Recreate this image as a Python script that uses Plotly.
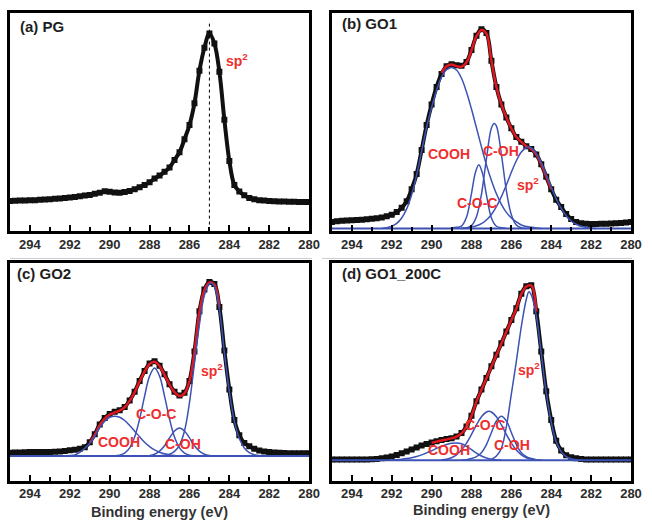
import plotly.graph_objects as go

# ---------------- data ----------------
ENERGY = [295.0, 294.75, 294.5, 294.25, 294.0, 293.75, 293.5, 293.25,
          293.0, 292.75, 292.5, 292.25, 292.0, 291.75, 291.5, 291.25,
          291.0, 290.75, 290.5, 290.25, 290.0, 289.75, 289.5, 289.25,
          289.0, 288.75, 288.5, 288.25, 288.0, 287.75, 287.5, 287.25,
          287.0, 286.75, 286.5, 286.25, 286.0, 285.75, 285.5, 285.25,
          285.0, 284.75, 284.5, 284.25, 284.0, 283.75, 283.5, 283.25,
          283.0, 282.75, 282.5, 282.25, 282.0, 281.75, 281.5, 281.25,
          281.0, 280.75, 280.5, 280.25, 280.0]

PG = [13.6, 13.7, 13.8, 13.8, 13.9, 14.0, 14.2, 14.3,
      14.4, 14.6, 14.8, 15.0, 15.2, 15.5, 15.8, 16.1,
      16.4, 16.9, 17.4, 18.1, 17.9, 17.5, 17.4, 17.7,
      18.2, 19.0, 19.9, 21.0, 22.2, 23.9, 25.3, 27.0,
      29.0, 32.5, 36.0, 42.0, 48.5, 58.5, 73.5, 84.0,
      90.6, 86.0, 73.0, 51.0, 32.0, 21.0, 18.0, 16.2,
      15.0, 14.4, 14.0, 13.8, 13.6, 13.5, 13.4, 13.4,
      13.3, 13.3, 13.2, 13.2, 13.2]

GO1 = [4.0, 4.3, 4.5, 4.7, 4.8, 4.9, 5.0, 5.2,
       5.4, 5.7, 6.0, 6.6, 7.3, 8.5, 10.5, 13.5,
       19.0, 26.0, 37.0, 48.5, 58.0, 66.0, 72.0, 75.5,
       76.5, 76.0, 75.8, 77.5, 83.0, 89.5, 92.5, 90.8,
       78.0, 66.0, 58.0, 52.0, 47.0, 43.0, 40.8, 38.8,
       37.5, 35.0, 30.5, 24.8, 19.0, 14.2, 10.8, 7.6,
       5.3, 4.0, 3.4, 3.1, 3.0, 3.0, 3.1, 3.2,
       3.3, 3.4, 3.5, 3.7, 3.9]

GO2 = [13.0, 13.1, 13.1, 13.2, 13.3, 13.3, 13.3, 13.3,
       13.3, 13.4, 13.6, 13.8, 14.1, 14.4, 14.8, 15.5,
       17.8, 21.5, 26.0, 29.0, 30.8, 31.8, 32.5, 34.0,
       37.0, 41.0, 46.0, 50.5, 54.0, 55.0, 53.0, 49.0,
       44.5, 41.0, 39.3, 40.5, 46.0, 59.5, 78.0, 88.0,
       91.5, 90.5, 80.0, 60.0, 42.0, 28.0, 21.0, 17.5,
       16.0, 14.8, 14.0, 13.5, 13.3, 13.1, 13.0, 12.9,
       12.8, 12.8, 12.7, 12.7, 12.7]

GO1_200C = [9.9, 9.9, 9.9, 9.9, 9.9, 9.9, 9.9, 9.9,
            10.0, 10.1, 10.4, 10.8, 11.3, 12.0, 12.7, 13.6,
            14.5, 15.4, 16.3, 17.0, 17.7, 18.3, 18.8, 19.3,
            19.7, 20.5, 22.0, 25.0, 30.0, 36.6, 42.0, 47.3,
            52.7, 58.0, 63.3, 68.7, 74.0, 79.4, 86.0, 89.5,
            90.0, 78.0, 59.5, 41.2, 28.0, 18.5, 14.0, 11.8,
            10.9, 10.4, 10.1, 9.9, 9.9, 9.9, 9.9, 9.9,
            9.9, 9.9, 9.9, 9.9, 9.9]

SP2_POSITION = 285.0

# ---- GO1 fit and components ----
GO1_FIT_E = [289.5, 289.25, 289.0, 288.75, 288.5, 288.25, 288.0, 287.75, 287.5, 287.25,
             287.0, 286.75, 286.5, 286.25, 286.0, 285.75, 285.5, 285.25, 285.0, 284.75,
             284.5, 284.25, 284.0]
GO1_FIT = [72.5, 75.5, 76.3, 75.6, 75.3, 77.3, 82.8, 89.3, 92.2, 90.5,
           78.0, 66.0, 58.0, 52.0, 47.0, 43.0, 40.8, 38.8, 37.5, 35.0,
           30.5, 24.8, 19.0]
GO1_BASE = 1.0
GO1_COOH_E = [292.5, 292.25, 292.0, 291.75, 291.5, 291.25, 291.0, 290.75, 290.5, 290.25,
              290.0, 289.75, 289.5, 289.25, 289.0, 288.75, 288.5, 288.25, 288.0, 287.75,
              287.5, 287.25, 287.0, 286.75, 286.5, 286.25, 286.0, 285.75, 285.5, 285.25,
              285.0, 284.75, 284.5]
GO1_COOH = [1.0, 1.3, 2.0, 3.3, 5.8, 10.0, 16.5, 25.5, 36.5, 47.5,
            56.5, 64.5, 70.5, 74.0, 75.0, 73.8, 70.0, 63.7, 55.9, 47.2,
            38.5, 30.2, 23.0, 16.9, 12.1, 8.4, 5.8, 4.0, 2.6, 1.9,
            1.5, 1.2, 1.0]
GO1_COC_E = [289.0, 288.75, 288.5, 288.25, 288.0, 287.8, 287.63, 287.45, 287.25, 287.0,
             286.75, 286.5, 286.25]
GO1_COC = [1.2, 1.5, 2.1, 6.1, 17.0, 26.8, 30.3, 26.4, 16.4, 5.8,
           2.0, 1.3, 1.0]
GO1_COH_E = [288.5, 288.25, 288.0, 287.75, 287.5, 287.25, 287.0, 286.86, 286.75, 286.5,
             286.25, 286.0, 285.75, 285.5, 285.25]
GO1_COH = [1.0, 1.2, 2.3, 6.4, 16.7, 33.0, 47.1, 49.2, 48.1, 35.0,
           18.4, 7.3, 2.6, 1.3, 1.0]
GO1_SP2_E = [288.5, 288.25, 288.0, 287.75, 287.5, 287.25, 287.0, 286.75, 286.5, 286.25,
             286.0, 285.75, 285.5, 285.25, 285.15, 285.0, 284.75, 284.5, 284.25, 284.0,
             283.75, 283.5, 283.25, 283.0, 282.75, 282.5, 282.25, 282.0, 281.75]
GO1_SP2 = [1.1, 1.3, 1.6, 2.2, 3.2, 4.9, 7.4, 11.0, 15.6, 21.0,
           26.8, 32.1, 36.1, 38.2, 38.4, 38.0, 35.4, 31.1, 25.6, 19.9,
           14.6, 10.2, 6.8, 4.4, 2.9, 2.0, 1.5, 1.2, 1.0]

# ---- GO2 fit and components ----
GO2_FIT_E = [291.0, 290.75, 290.5, 290.25, 290.0, 289.75, 289.5, 289.25, 289.0, 288.75,
             288.5, 288.25, 288.0, 287.75, 287.5, 287.25, 287.0, 286.75, 286.5, 286.25,
             286.0, 285.75, 285.5, 285.25, 285.0, 284.75, 284.5]
GO2_FIT = [17.5, 21.2, 25.7, 28.7, 30.5, 31.5, 32.3, 33.8, 36.8, 40.8,
           45.8, 50.3, 53.8, 54.8, 52.8, 48.8, 44.3, 40.8, 39.1, 40.3,
           45.8, 59.3, 77.8, 87.8, 91.3, 90.3, 79.8]
GO2_BASE = 11.5
GO2_COOH_E = [292.25, 292.0, 291.75, 291.5, 291.25, 291.0, 290.75, 290.5, 290.25, 290.0,
              289.75, 289.5, 289.25, 289.0, 288.75, 288.5, 288.25, 288.0, 287.75, 287.5,
              287.25, 287.0, 286.75, 286.5]
GO2_COOH = [11.5, 11.7, 12.0, 13.2, 15.0, 17.3, 20.5, 24.5, 27.5, 29.3,
            29.8, 29.3, 27.8, 25.5, 22.9, 20.3, 17.8, 15.8, 14.3, 13.2,
            12.5, 12.0, 11.7, 11.5]
GO2_COC_E = [289.75, 289.5, 289.25, 289.0, 288.75, 288.5, 288.25, 288.0, 287.75, 287.5,
             287.25, 287.0, 286.75, 286.5, 286.25, 286.0, 285.75, 285.5]
GO2_COC = [11.6, 11.9, 12.8, 15.2, 20.2, 28.5, 39.0, 48.2, 51.9, 48.2,
           39.0, 28.5, 20.2, 15.2, 12.8, 11.9, 11.6, 11.5]
GO2_COH_E = [288.0, 287.75, 287.5, 287.25, 287.0, 286.75, 286.5, 286.25, 286.0, 285.75,
             285.5, 285.25, 285.0, 284.75]
GO2_COH = [11.7, 12.3, 13.7, 16.2, 19.8, 23.0, 24.4, 23.0, 19.8, 16.2,
           13.7, 12.3, 11.7, 11.5]
GO2_SP2_E = [287.5, 287.25, 287.0, 286.75, 286.5, 286.25, 286.0, 285.75, 285.5, 285.25,
             285.0, 284.9, 284.75, 284.5, 284.25, 284.0, 283.75, 283.5, 283.25, 283.0,
             282.75, 282.5, 282.25]
GO2_SP2 = [11.6, 11.8, 12.3, 13.6, 16.5, 23.0, 36.0, 54.0, 72.0, 85.5,
           90.5, 91.0, 89.5, 79.0, 59.0, 41.0, 27.5, 19.5, 15.2, 13.0,
           12.1, 11.7, 11.5]

# ---- GO1_200C fit and components ----
GO1_200C_FIT_E = [290.0, 289.75, 289.5, 289.25, 289.0, 288.75, 288.5, 288.25, 288.0, 287.75,
                  287.5, 287.25, 287.0, 286.75, 286.5, 286.25, 286.0, 285.75, 285.5, 285.25,
                  285.0, 284.75]
GO1_200C_FIT = [17.5, 18.1, 18.6, 19.1, 19.6, 20.4, 21.9, 24.9, 29.9, 36.5,
                41.9, 47.2, 52.6, 57.9, 63.2, 68.6, 73.9, 79.3, 85.9, 89.4,
                89.8, 77.9]
GO1_200C_BASE = 9.5
GO1_200C_COOH_E = [292.0, 291.75, 291.5, 291.25, 291.0, 290.75, 290.5, 290.25, 290.0, 289.75,
                   289.5, 289.25, 289.0, 288.75, 288.5, 288.25, 288.0, 287.75, 287.5, 287.25,
                   287.0, 286.75, 286.5]
GO1_200C_COOH = [9.6, 9.8, 10.0, 10.3, 10.7, 11.3, 12.0, 12.9, 13.9, 15.0,
                 16.0, 16.8, 17.3, 17.5, 17.1, 15.9, 14.4, 12.8, 11.5, 10.6,
                 10.0, 9.7, 9.6]
GO1_200C_COC_E = [289.5, 289.25, 289.0, 288.75, 288.5, 288.25, 288.0, 287.75, 287.5, 287.25,
                  287.125, 287.0, 286.75, 286.5, 286.25, 286.0, 285.75, 285.5, 285.25, 285.0,
                  284.75]
GO1_200C_COC = [9.7, 10.0, 10.7, 12.0, 14.2, 17.4, 21.4, 25.8, 29.5, 31.7,
                32.0, 31.7, 29.5, 25.8, 21.4, 17.4, 14.2, 12.0, 10.7, 10.0,
                9.7]
GO1_200C_COH_E = [288.5, 288.25, 288.0, 287.75, 287.5, 287.25, 287.0, 286.75, 286.5, 286.25,
                  286.0, 285.75, 285.5, 285.25, 285.0, 284.75, 284.5]
GO1_200C_COH = [9.6, 9.8, 10.3, 11.2, 13.0, 16.7, 22.3, 27.6, 29.8, 27.6,
                22.3, 16.7, 13.0, 11.2, 10.3, 9.8, 9.6]
GO1_200C_SP2_E = [287.0, 286.75, 286.5, 286.25, 286.0, 285.75, 285.5, 285.25, 285.12, 285.0,
                  284.75, 284.5, 284.25, 284.0, 283.75, 283.5, 283.25, 283.0, 282.75, 282.5]
GO1_200C_SP2 = [9.9, 11.5, 15.0, 25.0, 40.0, 55.0, 71.0, 83.5, 87.0, 85.5,
                76.0, 58.5, 40.5, 27.0, 18.0, 13.5, 11.2, 10.2, 9.8, 9.6]

PANEL_TITLES = ["(a) PG", "(b) GO1", "(c) GO2", "(d) GO1_200C"]
X_TITLE = "Binding energy (eV)"

# ---------------- styling ----------------
BLACK = "#111111"
RED_LINE = "#e3171f"
RED_TEXT = "#ee2e2e"
BLUE = "#3c52b4"
FONT = "Liberation Sans, Arial, sans-serif"

fig = go.Figure()


def add_data(y, idx):
    fig.add_trace(go.Scatter(
        x=ENERGY, y=y, mode="lines+markers",
        line=dict(color=BLACK, width=4, shape="spline"),
        marker=dict(symbol="square", size=6, color=BLACK),
        xaxis=f"x{idx}", yaxis=f"y{idx}", showlegend=False, hoverinfo="skip"))


def add_fit(xe, y, idx):
    fig.add_trace(go.Scatter(
        x=xe, y=y, mode="lines",
        line=dict(color=RED_LINE, width=2.5, shape="spline"),
        xaxis=f"x{idx}", yaxis=f"y{idx}", showlegend=False, hoverinfo="skip"))


def add_comp(xe, y, idx, width=1.5):
    fig.add_trace(go.Scatter(
        x=xe, y=y, mode="lines",
        line=dict(color=BLUE, width=width, shape="spline"),
        xaxis=f"x{idx}", yaxis=f"y{idx}", showlegend=False, hoverinfo="skip"))


def add_base(v, idx):
    fig.add_trace(go.Scatter(
        x=[ENERGY[0], ENERGY[-1]], y=[v, v], mode="lines",
        line=dict(color=BLUE, width=2),
        xaxis=f"x{idx}", yaxis=f"y{idx}", showlegend=False, hoverinfo="skip"))


# (a)
add_data(PG, 1)
# (b)
add_data(GO1, 2)
add_fit(GO1_FIT_E, GO1_FIT, 2)
add_base(GO1_BASE, 2)
for xe, y in [(GO1_COOH_E, GO1_COOH), (GO1_COC_E, GO1_COC),
              (GO1_COH_E, GO1_COH), (GO1_SP2_E, GO1_SP2)]:
    add_comp(xe, y, 2)
# (c)
add_data(GO2, 3)
add_fit(GO2_FIT_E, GO2_FIT, 3)
add_base(GO2_BASE, 3)
for xe, y in [(GO2_COOH_E, GO2_COOH), (GO2_COC_E, GO2_COC),
              (GO2_COH_E, GO2_COH), (GO2_SP2_E, GO2_SP2)]:
    add_comp(xe, y, 3)
# (d)
add_data(GO1_200C, 4)
add_fit(GO1_200C_FIT_E, GO1_200C_FIT, 4)
add_base(GO1_200C_BASE, 4)
for xe, y in [(GO1_200C_COOH_E, GO1_200C_COOH), (GO1_200C_COC_E, GO1_200C_COC),
              (GO1_200C_COH_E, GO1_200C_COH), (GO1_200C_SP2_E, GO1_200C_SP2)]:
    add_comp(xe, y, 4)

# ---------------- layout ----------------
W, H = 652, 521
ML, MR, MT, MB = 10, 15, 10, 40
PW, PH = W - ML - MR, H - MT - MB


def px_x(x):
    return (x - ML) / PW


def px_y(y):
    return (H - MB - y) / PH


col_dom = [[px_x(10), px_x(312)], [px_x(335), px_x(637)]]
row_dom = [[px_y(229), px_y(10)], [px_y(481), px_y(262)]]

layout = dict(width=W, height=H, margin=dict(l=ML, r=MR, t=MT, b=MB),
              paper_bgcolor="white", plot_bgcolor="white",
              font=dict(family=FONT), showlegend=False)

for i in range(4):
    idx = i + 1
    r, c = divmod(i, 2)
    sfx = "" if idx == 1 else str(idx)
    layout[f"xaxis{sfx}"] = dict(
        domain=col_dom[c], anchor=f"y{idx}", range=[295, 280],
        tickmode="linear", tick0=280, dtick=2,
        ticks="inside", ticklen=6, tickwidth=2, tickcolor="black",
        minor=dict(ticks="inside", dtick=1, tick0=281, ticklen=4, tickwidth=2, tickcolor="black"),
        showline=True, linewidth=3, linecolor="black", mirror=True,
        showgrid=False, zeroline=False,
        tickfont=dict(family=FONT, size=13, color="#2b2b2b", weight="bold"),
        ticklabelstandoff=(0 if r == 0 else -2))
    layout[f"yaxis{sfx}"] = dict(
        domain=row_dom[r], anchor=f"x{idx}", range=[0, 100],
        showticklabels=False, ticks="",
        showline=True, linewidth=3, linecolor="black", mirror=True,
        showgrid=False, zeroline=False)

fig.update_layout(**layout)

# panel titles
title_pos = [(0.026, 0.94), (0.026, 0.95), (0.017, 0.955), (0.026, 0.955)]
for i, (t, (tx, ty)) in enumerate(zip(PANEL_TITLES, title_pos)):
    sfx = "" if i == 0 else str(i + 1)
    fig.add_annotation(text=t, xref=f"x{sfx} domain", yref=f"y{sfx} domain",
                       x=tx, y=ty, xanchor="left", yanchor="middle", showarrow=False,
                       font=dict(family=FONT, size=15, color="#1e1e1e", weight="bold"))

# peak labels
SP2 = "sp<sup>2</sup>"
labels = [
    (1, SP2, 283.62, 78.6),
    (2, "COOH", 289.11, 35.3), (2, "C-OH", 286.53, 36.7), (2, "C-O-C", 287.7, 12.6), (2, SP2, 285.15, 21.5),
    (3, SP2, 284.87, 51.1), (3, "C-O-C", 287.67, 31.0), (3, "COOH", 289.55, 18.0), (3, "C-OH", 286.3, 17.1),
    (4, SP2, 285.13, 51.6), (4, "C-O-C", 287.3, 25.6), (4, "C-OH", 285.97, 16.5), (4, "COOH", 289.13, 14.2),
]
for idx, t, lx, ly in labels:
    sfx = "" if idx == 1 else str(idx)
    fig.add_annotation(text=t, xref=f"x{sfx}", yref=f"y{sfx}", x=lx, y=ly,
                       showarrow=False, xanchor="center", yanchor="middle",
                       font=dict(family=FONT, size=14, color=RED_TEXT, weight="bold"))

# x-axis titles (bottom row)
for sfx, ypx in [("3", 512.5), ("4", 510)]:
    fig.add_annotation(text=X_TITLE, xref=f"x{sfx} domain", yref="paper",
                       x=0.5, y=px_y(ypx), xanchor="center", yanchor="middle", showarrow=False,
                       font=dict(family=FONT, size=14.5, color="#333333", weight="bold"))

# dotted sp2 reference line in (a)
fig.add_shape(type="line", xref="x", yref="y", x0=SP2_POSITION, x1=SP2_POSITION, y0=0, y1=96,
              line=dict(color="black", width=1, dash="dot"))

# thin grey separator lines under the top row
for x0, x1 in [(10, 315), (325, 638)]:
    fig.add_shape(type="line", xref="paper", yref="paper",
                  x0=px_x(x0), x1=px_x(x1), y0=px_y(257), y1=px_y(257),
                  line=dict(color="#c9ccd3", width=1))

fig.write_html("out.html", config={"displayModeBar": False},
               post_script="document.body.style.margin='0';document.body.style.padding='0';"
                           "document.body.style.overflow='hidden';")
